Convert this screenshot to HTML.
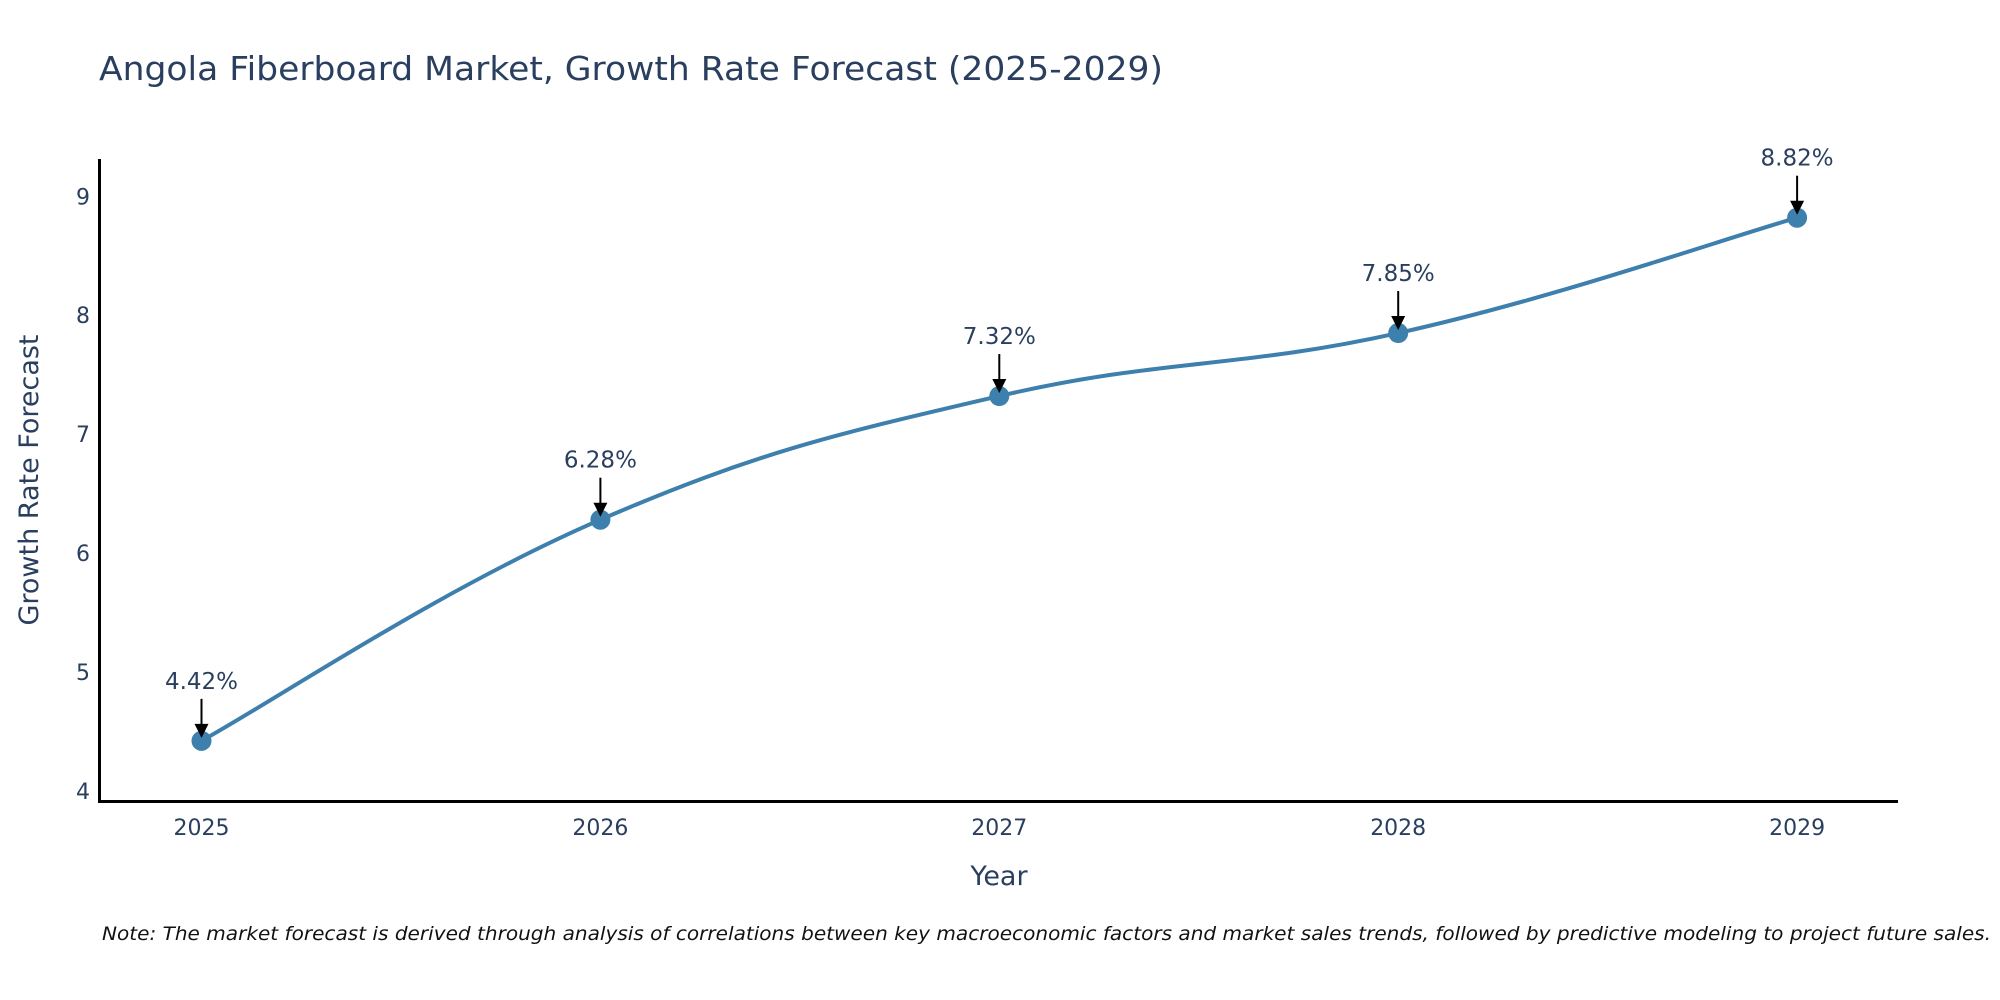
<!DOCTYPE html>
<html><head><meta charset="utf-8"><style>
body{margin:0;background:#fff;}
svg{display:block;font-family:"DejaVu Sans","Liberation Sans",sans-serif;}
</style></head><body>
<svg id="chart" width="2000" height="1000" viewBox="0 0 2000 1000">
<text x="99" y="80" font-size="33" fill="#2a3f5f" textLength="1064" lengthAdjust="spacingAndGlyphs">Angola Fiberboard Market, Growth Rate Forecast (2025-2029)</text>
<g id="yticks"></g>
<g id="xticks"></g>
<line x1="99.5" y1="159" x2="99.5" y2="802" stroke="#000" stroke-width="3"/>
<line x1="98" y1="801.5" x2="1898" y2="801.5" stroke="#000" stroke-width="3"/>
<text transform="translate(38,480) rotate(-90)" text-anchor="middle" font-size="27" fill="#2a3f5f">Growth Rate Forecast</text>
<text x="999" y="885" text-anchor="middle" font-size="27" fill="#2a3f5f">Year</text>
<path id="line" fill="none" stroke="#3d7fad" stroke-width="4"/>
<g id="marks"></g>
<text x="102" y="940" font-size="19" font-style="italic" fill="#111" textLength="1889" lengthAdjust="spacingAndGlyphs">Note: The market forecast is derived through analysis of correlations between key macroeconomic factors and market sales trends, followed by predictive modeling to project future sales.</text>
</svg>
<script>
const years = [2025, 2026, 2027, 2028, 2029];
const growth = [4.42, 6.28, 7.32, 7.85, 8.82];
const labels = ["4.42%", "6.28%", "7.32%", "7.85%", "8.82%"];
const yTickVals = [4, 5, 6, 7, 8, 9];

const NS = "http://www.w3.org/2000/svg";
function xS(v){ return 201.5 + (v - 2025) * 398.9; }
function yS(v){ return 790.8 - (v - 4) * 118.9; }
function mk(tag, attrs, parent){ const e=document.createElementNS(NS,tag); for(const k in attrs) e.setAttribute(k,attrs[k]); parent.appendChild(e); return e; }

const yt = document.getElementById('yticks');
yTickVals.forEach(v=>{
  const t = mk('text',{x:90,y:yS(v)+8,'text-anchor':'end','font-size':22,fill:'#2a3f5f'},yt);
  
  
  t.textContent = v;
});
const xt = document.getElementById('xticks');
years.forEach(v=>{
  const t = mk('text',{x:xS(v),y:835,'text-anchor':'middle','font-size':22,fill:'#2a3f5f'},xt);
  
  
  t.textContent = v;
});

const pts = years.map((y,i)=>[xS(y), yS(growth[i])]);
let d = `M${pts[0][0]},${pts[0][1]}`;
const s = 0.2;
for(let i=0;i<pts.length-1;i++){
  const p0 = pts[Math.max(0,i-1)], p1=pts[i], p2=pts[i+1], p3=pts[Math.min(pts.length-1,i+2)];
  const c1=[p1[0]+(p2[0]-p0[0])*s, p1[1]+(p2[1]-p0[1])*s];
  const c2=[p2[0]-(p3[0]-p1[0])*s, p2[1]-(p3[1]-p1[1])*s];
  d += ` C${c1[0]},${c1[1]} ${c2[0]},${c2[1]} ${p2[0]},${p2[1]}`;
}
document.getElementById('line').setAttribute('d', d);

const g = document.getElementById('marks');
pts.forEach((p,i)=>{
  const c = mk('circle',{cx:p[0],cy:p[1],r:10,fill:'#3d7fad'},g);
  
  
  const a = mk('line',{x1:p[0],y1:p[1]-42,x2:p[0],y2:p[1]-14,stroke:'#000','stroke-width':2},g);
  
  
  const h = mk('polygon',{points:`${p[0]-7},${p[1]-17} ${p[0]+7},${p[1]-17} ${p[0]},${p[1]-3}`,fill:'#000'},g);
  
  
  const t = mk('text',{x:p[0],y:p[1]-52,'text-anchor':'middle','font-size':23,fill:'#2a3f5f'},g);
  
  
  t.textContent = labels[i];
});
</script>
</body></html>
